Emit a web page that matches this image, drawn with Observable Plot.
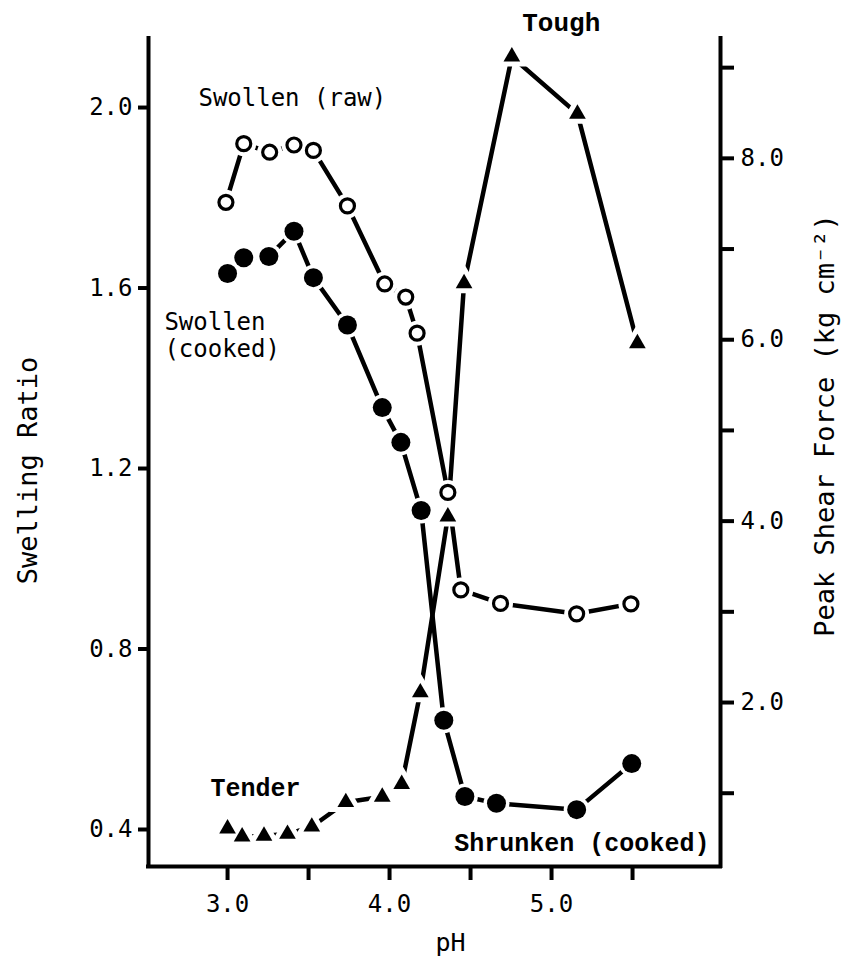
<!DOCTYPE html>
<html>
<head>
<meta charset="utf-8">
<script src="https://cdn.jsdelivr.net/npm/d3@7"></script>
<script src="https://cdn.jsdelivr.net/npm/@observablehq/plot@0.6"></script>
<style>
  html, body { margin: 0; padding: 0; background: #fff; }
</style>
</head>
<body>
<div id="chart"></div>
<script>
// ---- Data ----
// Swollen (raw): open circles, left axis (Swelling Ratio)
const rawPH       = [2.99, 3.10, 3.26, 3.41, 3.53, 3.74, 3.97, 4.10, 4.17, 4.36, 4.44, 4.685, 5.155, 5.49];
const rawSwelling = [1.790, 1.920, 1.901, 1.917, 1.905, 1.782, 1.609, 1.580, 1.500, 1.147, 0.931, 0.901, 0.878, 0.900];

// Swollen / Shrunken (cooked): filled circles, left axis
const cookedPH       = [3.00, 3.10, 3.255, 3.41, 3.53, 3.74, 3.955, 4.07, 4.195, 4.335, 4.465, 4.66, 5.155, 5.495];
const cookedSwelling = [1.632, 1.667, 1.670, 1.726, 1.623, 1.518, 1.335, 1.258, 1.107, 0.642, 0.473, 0.458, 0.444, 0.546];

// Peak shear force (kg cm^-2): triangles, right axis
const forcePH    = [3.00, 3.09, 3.225, 3.37, 3.52, 3.73, 3.955, 4.075, 4.19, 4.36, 4.46, 4.755, 5.16, 5.53];
const shearForce = [0.61, 0.52, 0.53, 0.55, 0.63, 0.90, 0.96, 1.10, 2.11, 4.05, 6.62, 9.12, 8.49, 5.96];

// Tick values
const xTicks        = [3.0, 3.5, 4.0, 4.5, 5.0, 5.5];
const xTickLabelled = [3.0, 4.0, 5.0];
const swellingTicks = [0.4, 0.8, 1.2, 1.6, 2.0];
const forceTicks    = [1, 2, 3, 4, 5, 6, 7, 8, 9];
const forceTickLabelled = [2, 4, 6, 8];

// Annotation texts
const labelRaw      = "Swollen (raw)";
const labelCooked   = "Swollen\n(cooked)";
const labelTough    = "Tough";
const labelTender   = "Tender";
const labelShrunken = "Shrunken (cooked)";
const titleLeft     = "Swelling Ratio";
const titleRight    = "Peak Shear Force (kg cm\u207B\u00B2)";
const titleX        = "pH";

// ---- Scales ----
const xDomain = [2.512, 6.043];
const yDomain = [0.318, 2.153];
// The right axis (force) is aligned with the left axis (swelling ratio)
const forceOffset = 0.2794, forceSlope = 0.2010;
const toLeft = f => forceOffset + forceSlope * f;
const toForce = s => (s - forceOffset) / forceSlope;

const raw    = rawPH.map((x, i) => ({x, y: rawSwelling[i]}));
const cooked = cookedPH.map((x, i) => ({x, y: cookedSwelling[i]}));
const force  = forcePH.map((x, i) => ({x, y: toLeft(shearForce[i])}));

const mono = "'DejaVu Sans Mono', monospace";
const typewriter = "'Liberation Mono', 'DejaVu Sans Mono', monospace";

const plot = Plot.plot({
  width: 842,
  height: 962,
  marginLeft: 148,
  marginRight: 122,
  marginTop: 38,
  marginBottom: 96,
  x: {domain: xDomain},
  y: {domain: yDomain},
  style: {fontFamily: mono, background: "#fff", color: "#000"},
  marks: [
    // frame: left, right and bottom axis lines
    Plot.ruleX([xDomain[0]], {stroke: "#000", strokeWidth: 4, strokeLinecap: "square"}),
    Plot.ruleX([xDomain[1]], {stroke: "#000", strokeWidth: 4, strokeLinecap: "square"}),
    Plot.ruleY([yDomain[0]], {stroke: "#000", strokeWidth: 4, strokeLinecap: "square"}),

    // axes
    Plot.axisX(xTicks, {
      tickSize: 14, tickPadding: 14, strokeWidth: 4, fontSize: 24, label: null,
      tickFormat: d => xTickLabelled.includes(d) ? d.toFixed(1) : ""
    }),
    Plot.axisY(swellingTicks, {
      anchor: "left", tickSize: 10, tickPadding: 6, strokeWidth: 4, fontSize: 24, label: null,
      tickFormat: d => d.toFixed(1)
    }),
    Plot.axisY(forceTicks.map(toLeft), {
      anchor: "right", tickSize: 13, tickPadding: 7, strokeWidth: 4, fontSize: 24, label: null,
      tickFormat: d => {
        const f = Math.round(toForce(d));
        return forceTickLabelled.includes(f) ? f.toFixed(1) : "";
      }
    }),

    // axis titles
    Plot.text([titleLeft], {frameAnchor: "left", textAnchor: "middle", lineAnchor: "middle", dx: -120, dy: 18, rotate: -90, fontSize: 27, fontFamily: mono}),
    Plot.text([titleRight], {frameAnchor: "right", textAnchor: "middle", lineAnchor: "middle", dx: 105, dy: -27, rotate: -90, fontSize: 27, fontFamily: mono}),
    Plot.text([titleX], {frameAnchor: "bottom", textAnchor: "middle", lineAnchor: "middle", dx: 16, dy: 76, fontSize: 25, fontFamily: mono}),

    // connecting lines
    Plot.line(raw,    {x: "x", y: "y", stroke: "#000", strokeWidth: 4.5}),
    Plot.line(cooked, {x: "x", y: "y", stroke: "#000", strokeWidth: 4.5}),
    Plot.line(force,  {x: "x", y: "y", stroke: "#000", strokeWidth: 4.5}),

    // white halos so lines stop short of the markers
    Plot.dot(raw,    {x: "x", y: "y", r: 12.5, fill: "#fff"}),
    Plot.dot(cooked, {x: "x", y: "y", r: 13, fill: "#fff"}),
    Plot.dot(force,  {x: "x", y: "y", symbol: "triangle", r: 6.2, fill: "#fff", stroke: "#fff", strokeWidth: 10}),

    // markers
    Plot.dot(raw,    {x: "x", y: "y", r: 7, fill: "#fff", stroke: "#000", strokeWidth: 3.2}),
    Plot.dot(cooked, {x: "x", y: "y", r: 9.5, fill: "#000"}),
    Plot.dot(force,  {x: "x", y: "y", symbol: "triangle", r: 6.2, fill: "#000"}),

    // annotations
    Plot.text([labelRaw], {x: 3.40, y: 2.020, fontSize: 24, fontFamily: mono}),
    Plot.text([labelCooked], {x: 2.61, y: 1.497, textAnchor: "start", fontSize: 24, lineHeight: 1.15, fontFamily: mono}),
    Plot.text([labelTough], {x: 5.06, y: 2.188, fontSize: 26, fontWeight: "bold", fontFamily: typewriter}),
    Plot.text([labelTender], {x: 2.895, y: 0.491, textAnchor: "start", fontSize: 25, fontWeight: "bold", fontFamily: typewriter}),
    Plot.text([labelShrunken], {x: 4.40, y: 0.371, textAnchor: "start", fontSize: 25, fontWeight: "bold", fontFamily: typewriter})
  ]
});

document.getElementById("chart").appendChild(plot);
</script>
</body>
</html>
